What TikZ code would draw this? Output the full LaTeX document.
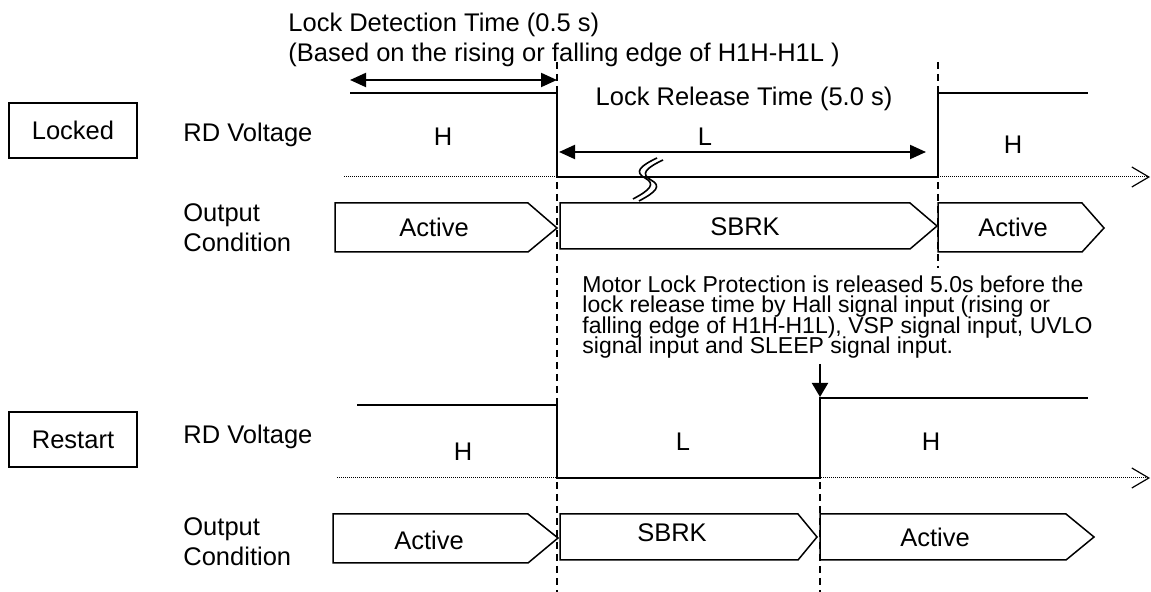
\documentclass[tikz,border=0pt]{standalone}
\usepackage{fontspec}
\setmainfont{Liberation Sans}
\usetikzlibrary{arrows.meta, positioning}
\newcommand{\notefont}{\fontsize{11.5}{10.3}\selectfont\setlength{\lineskiplimit}{-10pt}}

\begin{document}
\begin{tikzpicture}[x=0.5pt, y=-0.5pt, font=\fontsize{12.75}{15}\selectfont,
    level/.style={line width=1pt},
    axis/.style={line width=0.5pt, dash pattern=on 0.5pt off 0.5pt,
                 -{Straight Barb[length=8.5pt, width=10pt, line width=0.6pt]}},
    guide/.style={line width=0.7pt, dash pattern=on 3.5pt off 2.5pt},
    span/.style={line width=1pt,
                 {Triangle[length=8pt, width=7pt]}-{Triangle[length=8pt, width=7pt]}},
    state/.style={line width=0.75pt},
    gap/.style={line width=0.8pt},
    tagbox/.style={draw, line width=0.9pt, minimum width=64pt,
                   minimum height=27.5pt, inner sep=0pt},
    lbl/.style={inner sep=0pt}]
  \useasboundingbox (0,0) rectangle (1151,592);

  % Timing guides
  \draw[guide] (557,62) -- (557,592);
  \draw[guide] (938,62) -- (938,268);
  \draw[guide] (820,398) -- (820,592);

  % Locked case
  \node[tagbox] (locked) at (73,130.5) {Locked};
  \node[lbl, anchor=base west] (rdA) at (183,142) {RD Voltage};
  \node[lbl, anchor=west, align=left] (outA) at (183,228) {Output\\Condition};

  \node[lbl, anchor=base west] (detect) at (288,32) {Lock Detection Time (0.5 s)};
  \node[lbl, anchor=base west] (basis) at (288,62)
    {(Based on the rising or falling edge of H1H-H1L )};
  \node[lbl, anchor=base] (release) at (744,106) {Lock Release Time (5.0 s)};

  \draw[axis] (344,177) -- (1150,177);
  \draw[level] (350,93) -- (557,93) -- (557,177) -- (938,177) -- (938,93) -- (1088,93);
  \draw[span] (350,80) -- (557,80);
  \draw[span] (559,152) -- (926,152);
  \draw[gap] (657,158) .. controls (640,166) and (634,172) .. (645,178)
                       .. controls (656,184) and (650,190) .. (633,199);
  \draw[gap] (663,160) .. controls (646,168) and (640,174) .. (651,180)
                       .. controls (662,186) and (656,192) .. (639,201);

  \node[lbl] (hA) at (443,137) {H};
  \node[lbl] (lA) at (705,137) {L};
  \node[lbl] (hB) at (1013,145) {H};

  \draw[state] (335,203) -- (528,203) -- (557,228) -- (528,252) -- (335,252) -- cycle;
  \draw[state] (560,203) -- (910,203) -- (937,226) -- (910,249) -- (560,249) -- cycle;
  \draw[state] (938,203) -- (1082,203) -- (1104,228) -- (1082,252) -- (938,252) -- cycle;
  \node[lbl] (actA) at (434,227) {Active};
  \node[lbl] (sbrkA) at (745,227) {SBRK};
  \node[lbl] (actB) at (1013,227) {Active};

  % Release note
  \node[lbl, anchor=north west, align=left, font=\notefont] (note) at (582,275)
    {Motor Lock Protection is released 5.0s before the\\
     lock release time by Hall signal input (rising or\\
     falling edge of H1H-H1L), VSP signal input, UVLO\\
     signal input and SLEEP signal input.};
  \draw[line width=1pt, -{Triangle[length=7pt, width=8pt]}] (820,364) -- (820,397);

  % Restart case
  \node[tagbox] (restart) at (73,439.5) {Restart};
  \node[lbl, anchor=base west] (rdC) at (183,444) {RD Voltage};
  \node[lbl, anchor=west, align=left] (outC) at (183,542) {Output\\Condition};

  \draw[axis] (337,478) -- (1150,478);
  \draw[level] (357,405) -- (557,405) -- (557,478) -- (820,478) -- (820,398) -- (1088,398);

  \node[lbl] (hC) at (463,452) {H};
  \node[lbl] (lC) at (683,442) {L};
  \node[lbl] (hD) at (931,442) {H};

  \draw[state] (333,514) -- (528,514) -- (558,538) -- (528,563) -- (333,563) -- cycle;
  \draw[state] (560,514) -- (798,514) -- (817,537) -- (798,560) -- (560,560) -- cycle;
  \draw[state] (820,514) -- (1066,514) -- (1094,537) -- (1066,560) -- (820,560) -- cycle;
  \node[lbl] (actC) at (429,540) {Active};
  \node[lbl] (sbrkC) at (672,533) {SBRK};
  \node[lbl] (actD) at (935,537) {Active};
\end{tikzpicture}
\end{document}
